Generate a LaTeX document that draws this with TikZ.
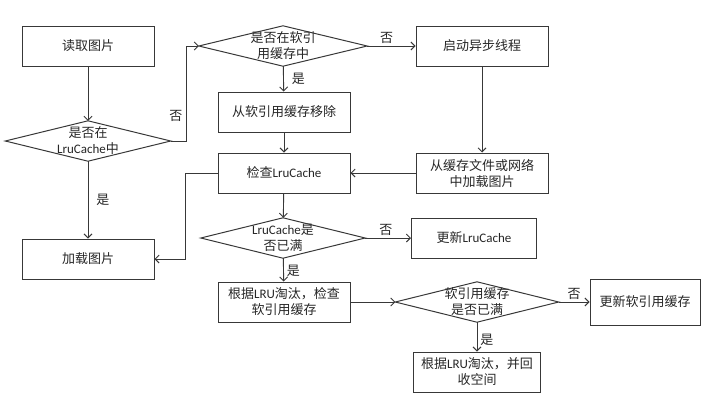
\documentclass[tikz,border=0pt]{standalone}
\usepackage{fontspec}
\setmainfont{Noto Sans CJK SC}
\newfontfamily\lat{Carlito}
\usetikzlibrary{arrows.meta}

\definecolor{linegray}{rgb}{0.22,0.22,0.22}
\definecolor{textgray}{rgb}{0.15,0.15,0.15}

\tikzset{
    box/.style={draw=linegray, line width=1pt, minimum width=#1, minimum height=40, inner sep=0, align=center, text=textgray},
    box/.default=132,
    decide/.style={minimum width=#1, minimum height=40, inner sep=0, align=center, text=textgray},
    arr/.style={draw=linegray, line width=0.9pt, -{Straight Barb[length=4pt,width=8pt]}},
    lbl/.style={text=textgray, inner sep=2pt}
}

\begin{document}
\begin{tikzpicture}[x=1pt, y=-1pt, font=\fontsize{13}{16}\selectfont]
            \useasboundingbox (0,0) rectangle (720,405);

            \node[box] (read) at (88,46) {读取图片};
            \node[decide=165] (d1) at (88,141) {是否在\\{\lat LruCache}中};
            \node[box] (load) at (88,259) {加载图片};

            \node[decide=168] (d2) at (283,46) {是否在软引\\用缓存中};
            \node[box] (remove) at (284,112) {从软引用缓存移除};
            \node[box] (check) at (284,173) {检查{\lat LruCache}};
            \node[decide=164] (d3) at (283,238) {{\lat LruCache}是\\否已满};
            \node[box] (evict) at (284,302) {根据{\lat LRU}淘汰，检查\\软引用缓存};

            \node[box] (async) at (482,46) {启动异步线程};
            \node[box] (fetch) at (482,173) {从缓存文件或网络\\中加载图片};
            \node[box=125] (upd1) at (474,238) {更新{\lat LruCache}};
            \node[decide=163] (d4) at (477,302) {软引用缓存\\是否已满};
            \node[box=127] (reclaim) at (477,372) {根据{\lat LRU}淘汰，并回\\收空间};
            \node[box=110, minimum height=46] (upd2) at (645,302) {更新软引用缓存};

            \foreach \d in {d1,d2,d3,d4}
                \draw[linegray, line width=1pt] (\d.west) -- (\d.north) -- (\d.east) -- (\d.south) -- cycle;

            \draw[arr] (read) -- (d1);
            \draw[arr] (d1) -- node[lbl, right=6pt] {是} (load);
            \draw[arr] (d1.east) -- ++(16,0) |- node[lbl, pos=0.13, left=2pt] {否} (d2.west);
            \draw[arr] (d2) -- node[lbl, above, pos=0.4] {否} (async);
            \draw[arr] (d2) -- node[lbl, right=6pt] {是} (remove);
            \draw[arr] (remove) -- (check);
            \draw[arr] (async) -- (fetch);
            \draw[arr] (fetch) -- (check);
            \draw[arr] (check.west) -- ++(-32,0) |- (load.east);
            \draw[arr] (check) -- (d3);
            \draw[arr] (d3) -- node[lbl, above, pos=0.45] {否} (upd1);
            \draw[arr] (d3) -- node[lbl, right=1pt, pos=0.55] {是} (evict);
            \draw[arr] (evict) -- (d4);
            \draw[arr] (d4) -- node[lbl, above, pos=0.5] {否} (upd2);
            \draw[arr] (d4) -- node[lbl, right=1pt, pos=0.6] {是} (reclaim);
        \end{tikzpicture}
\end{document}
